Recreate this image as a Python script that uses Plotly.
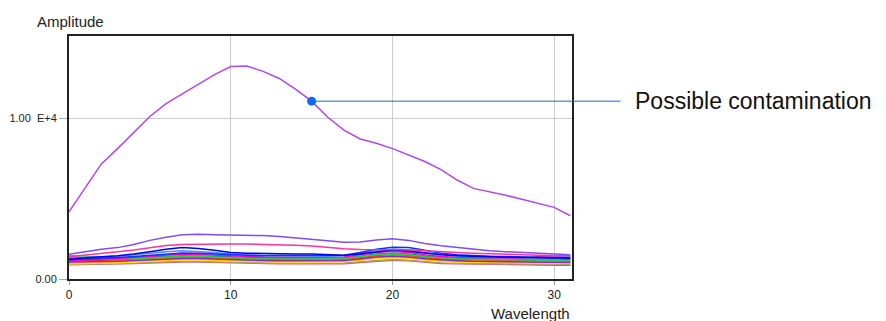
import plotly.graph_objects as go

# 波長 0..31
wavelength = list(range(32))

# 汚染の可能性があるサンプル
contaminated = [4180, 5700, 7150, 8100, 9100, 10100, 10900, 11500, 12150, 12700, 13200, 13230,
                12900, 12460, 11800, 11050, 10050, 9250, 8700, 8430, 8100, 7700, 7300, 6800,
                6150, 5630, 5420, 5200, 4950, 4700, 4450, 3930]

# その他のサンプル
violet = [1530, 1700, 1850, 1950, 2150, 2400, 2600, 2750, 2780, 2750, 2740, 2740, 2700, 2640, 2560, 2490,
          2380, 2280, 2300, 2420, 2500, 2400, 2200, 2060, 1950, 1850, 1760, 1700, 1640, 1580, 1520, 1500]
pink = [1380, 1500, 1600, 1700, 1800, 1950, 2080, 2150, 2170, 2170, 2170, 2170, 2160, 2150, 2100, 2050,
        1950, 1880, 1840, 1840, 1840, 1820, 1750, 1680, 1640, 1600, 1560, 1520, 1500, 1480, 1460, 1450]
blue_a = [1250, 1300, 1380, 1450, 1550, 1700, 1850, 1950, 1900, 1780, 1650, 1600, 1600, 1580, 1560, 1550,
          1500, 1480, 1560, 1700, 1800, 1720, 1600, 1500, 1450, 1400, 1380, 1350, 1330, 1320, 1300, 1300]
blue_b = [1200, 1230, 1280, 1330, 1400, 1480, 1550, 1620, 1600, 1550, 1500, 1470, 1450, 1450, 1460, 1470,
          1460, 1480, 1650, 1850, 1980, 1950, 1780, 1600, 1500, 1450, 1420, 1400, 1380, 1350, 1300, 1280]
light_blue = [1300, 1330, 1380, 1420, 1500, 1600, 1700, 1750, 1720, 1650, 1550, 1500, 1480, 1470, 1450, 1430,
              1420, 1450, 1600, 1750, 1850, 1800, 1650, 1520, 1450, 1400, 1380, 1350, 1330, 1320, 1350, 1380]
magenta = [1150, 1180, 1230, 1280, 1350, 1420, 1500, 1550, 1530, 1480, 1420, 1380, 1360, 1350, 1350, 1340,
           1330, 1360, 1500, 1650, 1720, 1650, 1500, 1400, 1350, 1330, 1320, 1310, 1300, 1380, 1400, 1350]
green = [1450, 1430, 1300, 1250, 1250, 1300, 1380, 1420, 1400, 1350, 1300, 1270, 1260, 1250, 1250, 1240,
         1230, 1260, 1380, 1500, 1560, 1500, 1380, 1300, 1260, 1230, 1220, 1200, 1190, 1180, 1150, 1130]
teal = [1250, 1260, 1280, 1300, 1330, 1380, 1420, 1450, 1430, 1400, 1350, 1320, 1300, 1290, 1290, 1280,
        1270, 1300, 1420, 1560, 1620, 1560, 1430, 1330, 1280, 1250, 1240, 1230, 1230, 1250, 1260, 1200]
red = [1100, 1120, 1160, 1200, 1250, 1300, 1350, 1380, 1360, 1320, 1270, 1240, 1220, 1210, 1210, 1200,
       1190, 1220, 1330, 1460, 1530, 1470, 1350, 1260, 1220, 1200, 1190, 1180, 1170, 1160, 1150, 1120]
purple = [1050, 1060, 1080, 1110, 1150, 1200, 1250, 1280, 1270, 1230, 1190, 1160, 1150, 1140, 1140, 1130,
          1120, 1150, 1250, 1360, 1420, 1370, 1260, 1180, 1140, 1100, 1080, 1060, 1050, 1040, 1030, 1020]
orange = [1050, 1060, 1090, 1120, 1170, 1230, 1280, 1310, 1300, 1260, 1210, 1180, 1170, 1160, 1160, 1150,
          1140, 1170, 1270, 1380, 1450, 1400, 1280, 1200, 1160, 1140, 1130, 1120, 1110, 1100, 1100, 1080]
gold = [1000, 1010, 1040, 1070, 1120, 1170, 1220, 1250, 1240, 1200, 1160, 1130, 1120, 1110, 1110, 1100,
        1090, 1120, 1220, 1330, 1390, 1340, 1230, 1150, 1110, 1090, 1080, 1070, 1060, 1060, 1050, 1040]
yellow = [950, 960, 980, 1010, 1060, 1110, 1160, 1190, 1180, 1150, 1110, 1080, 1070, 1060, 1060, 1050,
          1040, 1070, 1160, 1260, 1320, 1270, 1170, 1090, 1060, 1040, 1030, 1020, 1010, 1010, 1000, 990]
khaki = [900, 910, 930, 960, 1000, 1040, 1080, 1100, 1090, 1060, 1030, 1000, 990, 980, 980, 970,
         960, 990, 1070, 1160, 1210, 1170, 1080, 1010, 980, 960, 950, 940, 930, 930, 920, 910]
mauve = [880, 890, 900, 930, 960, 1000, 1040, 1060, 1050, 1020, 990, 960, 950, 940, 940, 930,
         920, 950, 1030, 1120, 1170, 1130, 1040, 970, 940, 920, 900, 890, 880, 870, 860, 850]

samples = [
    (mauve, '#cc5599'), (khaki, '#b0a060'), (yellow, '#ffe600'), (gold, '#ffbb00'),
    (orange, '#ff9a1a'), (purple, '#9922cc'), (red, '#ff2222'), (teal, '#00a0a0'),
    (green, '#33cc33'), (magenta, '#ff00cc'), (light_blue, '#4f8fff'), (blue_b, '#1030ff'),
    (blue_a, '#0000ee'), (pink, '#ff3399'), (violet, '#7a4dff'),
]

# 注目点
mark_x = 15
mark_y = 11050
label = 'Possible contamination'

fig = go.Figure()

for vals, col in samples:
    fig.add_trace(go.Scatter(x=wavelength, y=vals, mode='lines',
                             line=dict(color=col, width=1.5), hoverinfo='skip'))

fig.add_trace(go.Scatter(x=wavelength, y=contaminated, mode='lines',
                         line=dict(color='#b048e6', width=1.5)))

fig.add_trace(go.Scatter(x=[mark_x], y=[mark_y], mode='markers',
                         marker=dict(color='#0a6cf0', size=9), cliponaxis=False))

fig.add_annotation(x=mark_x, y=mark_y, xref='x', yref='y', text=label,
                   showarrow=True, arrowhead=0, arrowwidth=1, arrowcolor='#1f63d8',
                   ax=309, ay=0, axref='pixel', ayref='pixel', xanchor='left',
                   borderpad=13, font=dict(family='Liberation Sans', size=23, color='#111'))

# 軸タイトル
fig.add_annotation(text='Amplitude', x=-0.068, y=1.0, xref='paper', yref='paper',
                   xanchor='left', yanchor='bottom', yshift=4, showarrow=False,
                   font=dict(family='Liberation Sans', size=15, color='#222'))
fig.add_annotation(text='Wavelength', x=1.0, y=0, xref='paper', yref='paper',
                   xanchor='right', yanchor='top', yshift=-24, showarrow=False,
                   font=dict(family='Liberation Sans', size=15, color='#222'))

fig.update_xaxes(range=[0, 31.1], tickvals=[0, 10, 20, 30], showgrid=True, gridcolor='#cccccc',
                 zeroline=False, showline=True, linecolor='#222', linewidth=2, mirror=True,
                 ticks='outside', ticklen=4, tickcolor='#999', automargin=False,
                 tickfont=dict(size=12))
fig.update_yaxes(range=[0, 15100], tickvals=[0, 10000], ticktext=['0.00', '1.00  E+4'],
                 showgrid=True, gridcolor='#cccccc', zeroline=False, showline=True,
                 linecolor='#222', linewidth=2, mirror=True, automargin=False,
                 ticks='outside', ticklen=8, tickcolor='#aaa', tickfont=dict(size=11))

# ページの余白 8px を差し引いたサイズ
fig.update_layout(
    width=878, height=313,
    margin=dict(l=61, r=314, t=28, b=42, autoexpand=False),
    plot_bgcolor='white', paper_bgcolor='white',
    showlegend=False,
    font=dict(family='Liberation Sans', size=11, color='#222'),
)

fig.write_html('out.html')
